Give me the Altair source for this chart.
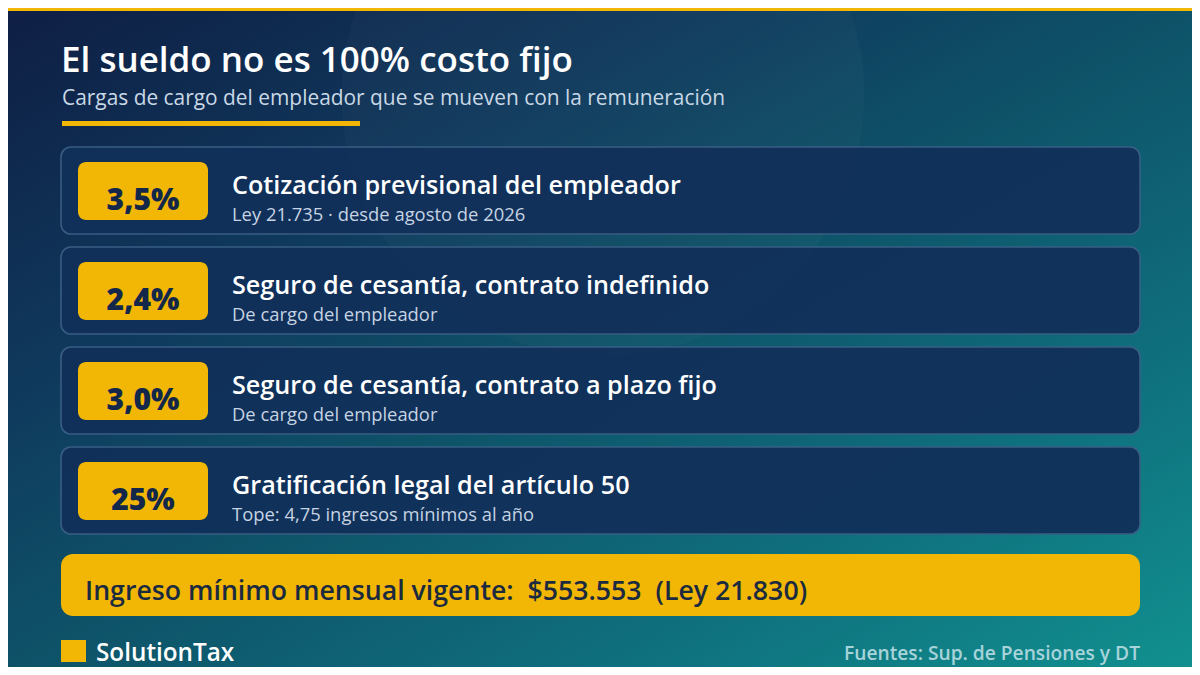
import math
import altair as alt
import pandas as pd

# ---------------- data ----------------
TITLE = "El sueldo no es 100% costo fijo"
SUBTITLE = "Cargas de cargo del empleador que se mueven con la remuneración"
pct_labels = ["3,5%", "2,4%", "3,0%", "25%"]
item_titles = [
    "Cotización previsional del empleador",
    "Seguro de cesantía, contrato indefinido",
    "Seguro de cesantía, contrato a plazo fijo",
    "Gratificación legal del artículo 50",
]
item_notes = [
    "Ley 21.735 · desde agosto de 2026",
    "De cargo del empleador",
    "De cargo del empleador",
    "Tope: 4,75 ingresos mínimos al año",
]
BANNER = "Ingreso mínimo mensual vigente:\u00a0 $553.553\u00a0 (Ley 21.830)"
BRAND = "SolutionTax"
SOURCE = "Fuentes: Sup. de Pensiones y DT"

# ---------------- layout ----------------
W, H = 1184, 659
FONT = "Open Sans"
YELLOW = "#f2b705"
NAVY_TXT = "#13274a"

xs = alt.Scale(domain=[8, 1192], nice=False, zero=False)
ys = alt.Scale(domain=[8, 667], nice=False, zero=False, reverse=True)


def X(f="x"):
    return alt.X(f"{f}:Q", scale=xs, axis=None)


def Y(f="y"):
    return alt.Y(f"{f}:Q", scale=ys, axis=None)


def rect_layer(df, **mark):
    return alt.Chart(df).mark_rect(**mark).encode(
        x=X("x"), x2=alt.X2("x2:Q"), y=Y("y"), y2=alt.Y2("y2:Q")
    )


def text_layer(df, **mark):
    return alt.Chart(df).mark_text(baseline="alphabetic", font=FONT, **mark).encode(
        x=X("x"), y=Y("y"), text="t:N"
    )


# background gradient
bg = rect_layer(
    pd.DataFrame({"x": [8], "x2": [1192], "y": [8], "y2": [667]}),
    color=alt.LinearGradient(
        gradient="linear",
        stops=[
            alt.GradientStop(color="#0f1e44", offset=0),
            alt.GradientStop(color="#0f3a5d", offset=0.3),
            alt.GradientStop(color="#0e5268", offset=0.5),
            alt.GradientStop(color="#0f6f7d", offset=0.75),
            alt.GradientStop(color="#11908f", offset=1),
        ],
        x1=0, y1=0, x2=1, y2=1,
    ),
)

glow = alt.Chart(pd.DataFrame({"x": [603], "y": [95]})).mark_circle(
    size=math.pi * 295 ** 2, color="#ffffff", opacity=0.022
).encode(x=X(), y=Y())

topbar = rect_layer(
    pd.DataFrame({"x": [8], "x2": [1192], "y": [8], "y2": [11]}), color=YELLOW
)

title = text_layer(
    pd.DataFrame({"x": [61], "y": [72], "t": [TITLE]}),
    align="left", fontSize=35, fontWeight=600, color="#ffffff",
)
subtitle = text_layer(
    pd.DataFrame({"x": [62], "y": [105], "t": [SUBTITLE]}),
    align="left", fontSize=20.9, fontWeight=400, color="#c9d8e6",
)
underline = rect_layer(
    pd.DataFrame({"x": [62], "x2": [360], "y": [121], "y2": [126]}), color=YELLOW
)

n = len(pct_labels)
tops = [147 + 100 * i for i in range(n)]
cards = pd.DataFrame({
    "x": [61] * n, "x2": [1140] * n,
    "y": tops, "y2": [t + 87 for t in tops],
})
card_layer = rect_layer(
    cards, color="#11305a", opacity=0.95, cornerRadius=10,
    stroke="#3b5f86", strokeWidth=1.6,
)
badges = pd.DataFrame({
    "x": [78] * n, "x2": [208] * n,
    "y": [t + 15 for t in tops], "y2": [t + 73 for t in tops],
})
badge_layer = rect_layer(badges, color=YELLOW, cornerRadius=8)

badge_txt = text_layer(
    pd.DataFrame({"x": [143] * n, "y": [t + 63 for t in tops], "t": pct_labels}),
    align="center", fontSize=30, fontWeight=800, color=NAVY_TXT,
)
item_title_txt = text_layer(
    pd.DataFrame({"x": [232] * n, "y": [t + 47 for t in tops], "t": item_titles}),
    align="left", fontSize=25.2, fontWeight=600, color="#ffffff",
)
item_note_txt = text_layer(
    pd.DataFrame({"x": [232] * n, "y": [t + 74 for t in tops], "t": item_notes}),
    align="left", fontSize=18.4, fontWeight=400, color="#c6d3e2",
)

banner = rect_layer(
    pd.DataFrame({"x": [61], "x2": [1140], "y": [554], "y2": [616]}),
    color=YELLOW, cornerRadius=12,
)
banner_txt = text_layer(
    pd.DataFrame({"x": [85], "y": [600], "t": [BANNER]}),
    align="left", fontSize=26.7, fontWeight=600, color="#1b2a3f",
)

brand_sq = rect_layer(
    pd.DataFrame({"x": [61], "x2": [86], "y": [640], "y2": [662]}), color=YELLOW
)
brand_txt = text_layer(
    pd.DataFrame({"x": [96], "y": [661], "t": [BRAND]}),
    align="left", fontSize=24.3, fontWeight=600, color="#ffffff",
)
source_txt = text_layer(
    pd.DataFrame({"x": [1140], "y": [660], "t": [SOURCE]}),
    align="right", fontSize=19.2, fontWeight=600, color="#a7d3da",
)

chart = alt.layer(
    bg, glow, topbar, title, subtitle, underline,
    card_layer, badge_layer, badge_txt, item_title_txt, item_note_txt,
    banner, banner_txt, brand_sq, brand_txt, source_txt,
).properties(
    width=W, height=H, padding=0, autosize=alt.AutoSizeParams(type="none")
).configure_view(strokeWidth=0, clip=False)

chart.save("out.html", embed_options={"renderer": "svg", "actions": False})
